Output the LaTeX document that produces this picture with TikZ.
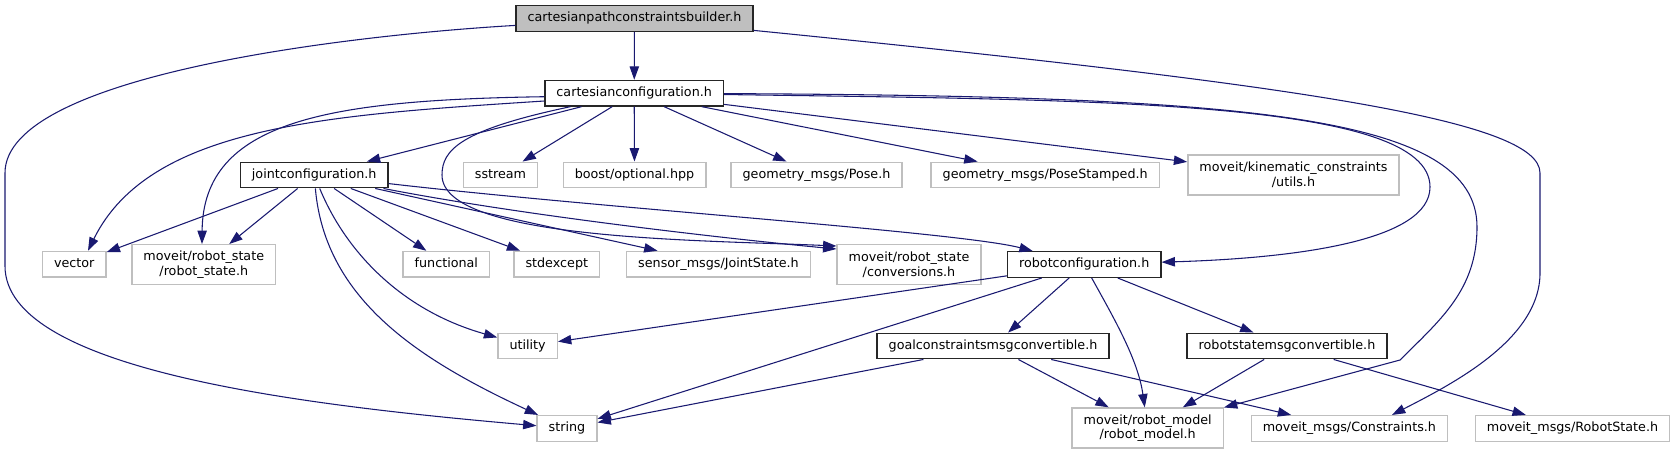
\documentclass[tikz,border=0pt]{standalone}
\usepackage{fontspec}
\setmainfont{DejaVu Sans}
\usetikzlibrary{arrows.meta}
\definecolor{edgec}{HTML}{191970}
\definecolor{greyl}{HTML}{BFBFBF}
\begin{document}
\begin{tikzpicture}[x=0.75pt,y=-0.75pt,
  font=\fontsize{9.55}{11}\selectfont,
  box/.style={draw=greyl, line width=1pt, inner xsep=8.7pt, inner ysep=0pt,
    minimum height=19.2pt, text height=7.3pt, text depth=2.2pt},
  boxtwo/.style={draw=greyl, line width=1pt, inner xsep=8.7pt, inner ysep=0pt,
    minimum height=30pt, align=center},
  doc/.style={box, draw=black!85},
  edge/.style={draw=edgec, line width=0.8pt, -{Triangle[length=10pt,width=7pt]}}]
\useasboundingbox (0,0) rectangle (1677,455);
% nodes
\node[doc, fill=greyl] (top) at (634.5,18.5) {cartesianpathconstraintsbuilder.h};
\node[doc] (cc) at (634.2,93.2) {cartesianconfiguration.h};
\node[doc] (jc) at (314.2,175) {jointconfiguration.h};
\node[box] (ss) at (500.5,175) {sstream};
\node[box] (bo) at (634.5,175) {boost/optional.hpp};
\node[box] (gp) at (816.5,175) {geometry\_msgs/Pose.h};
\node[box] (gps) at (1045.2,175) {geometry\_msgs/PoseStamped.h};
\node[boxtwo] (ut) at (1293.5,175) {moveit/kinematic\_constraints\\/utils.h};
\node[box] (ve) at (74.2,264.2) {vector};
\node[boxtwo] (rs) at (203.8,264.7) {moveit/robot\_state\\/robot\_state.h};
\node[box] (fu) at (446.3,264.2) {functional};
\node[box] (se) at (556.8,264.2) {stdexcept};
\node[box] (js) at (718.5,264.2) {sensor\_msgs/JointState.h};
\node[boxtwo] (cv) at (909,264.7) {moveit/robot\_state\\/conversions.h};
\node[doc] (rc) at (1084.2,264.5) {robotconfiguration.h};
\node[box] (uy) at (527.6,346) {utility};
\node[doc] (gc) at (993,346) {goalconstraintsmsgconvertible.h};
\node[doc] (rsm) at (1287,346) {robotstatemsgconvertible.h};
\node[box] (st) at (567,428.4) {string};
\node[boxtwo] (rm) at (1147.7,428) {moveit/robot\_model\\/robot\_model.h};
\node[box] (co) at (1349.4,428.4) {moveit\_msgs/Constraints.h};
\node[box] (rst) at (1572.5,428.4) {moveit\_msgs/RobotState.h};
% edges from top
\draw[edge] (top) -- (cc);
\draw[edge] (top) .. controls (350,35) and (5,75) .. (5,173) -- (5,266)
  .. controls (5,370) and (300,405) .. (st);
\draw[edge] (top) .. controls (1300,85) and (1540,120) .. (1540,173) -- (1540,273)
  .. controls (1540,340) and (1450,385) .. (co.north -| 1392,0);
% edges from cartesianconfiguration
\draw[edge] (cc) -- (jc);
\draw[edge] (cc.west |- 0,101) .. controls (330,115) and (150,125) .. (ve.north -| 88,0);
\draw[edge] (cc.west |- 0,96.7) .. controls (330,100) and (203,120) .. (rs.north -| 202,0);
\draw[edge] (cc) -- (ss);
\draw[edge] (cc) -- (bo);
\draw[edge] (cc) -- (gp);
\draw[edge] (cc) -- (gps);
\draw[edge] (cc) -- (ut);
\draw[edge] (cc) .. controls (460,130) and (442,150) .. (442,175)
  .. controls (442,240) and (700,240) .. (cv.west |- 0,246);
\draw[edge] (cc) .. controls (1100,100) and (1430,100) .. (1430,187)
  .. controls (1430,240) and (1300,258) .. (rc);
\draw[edge] (cc) .. controls (1250,96) and (1477,115) .. (1477,227)
  .. controls (1477,290) and (1440,320) .. (1400,360) -- (rm);
% edges from jointconfiguration
\draw[edge] (jc) -- (ve);
\draw[edge] (jc) -- (rs);
\draw[edge] (jc) -- (fu);
\draw[edge] (jc) -- (se);
\draw[edge] (jc) -- (js);
\draw[edge] (jc) .. controls (325,300) and (420,360) .. (st);
\draw[edge] (jc) .. controls (345,250) and (400,310) .. (uy);
\draw[edge] (jc) .. controls (520,215) and (720,238) .. (cv.west |- 0,249);
\draw[edge] (jc) .. controls (600,208) and (960,232) .. (rc);
% edges from robotconfiguration
\draw[edge] (rc) -- (uy);
\draw[edge] (rc) -- (st);
\draw[edge] (rc) -- (gc);
\draw[edge] (rc) .. controls (1115,320) and (1138,360) .. (rm);
\draw[edge] (rc) -- (rsm);
% edges from goalconstraintsmsgconvertible
\draw[edge] (gc) -- (st);
\draw[edge] (gc) -- (rm);
\draw[edge] (gc) -- (co);
% edges from robotstatemsgconvertible
\draw[edge] (rsm) -- (rm);
\draw[edge] (rsm) -- (rst);
\end{tikzpicture}
\end{document}
